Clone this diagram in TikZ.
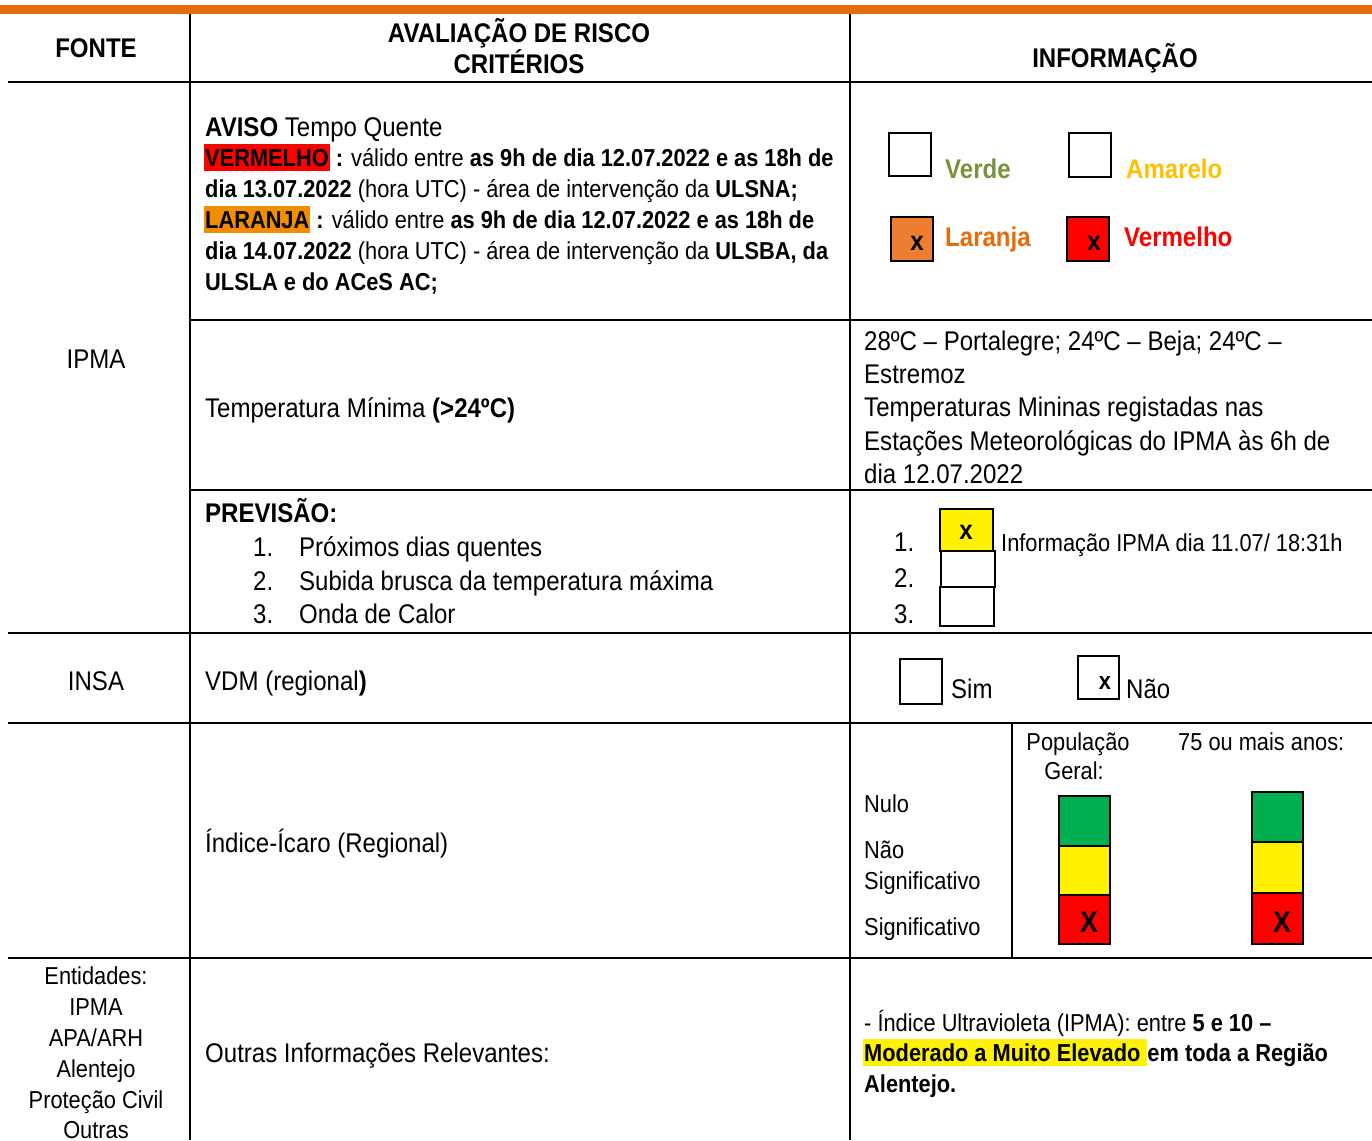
\documentclass[tikz,border=0pt]{standalone}
\usepackage{fontspec}
\setmainfont{Liberation Sans}[FakeStretch=0.89]
\newcommand\bodyfs{\fontsize{27}{33}\selectfont}
\newcommand\avfs{\fontsize{24.5}{31}\selectfont}
\newcommand\smfs{\fontsize{24.5}{31}\selectfont}
\definecolor{barorange}{HTML}{E46C0A}
\definecolor{hlorange}{HTML}{F28C00}
\definecolor{verdetx}{HTML}{77933C}
\definecolor{amartx}{HTML}{FFC000}
\definecolor{larbox}{HTML}{ED7D31}
\definecolor{lartx}{HTML}{E46C0A}
\definecolor{gbar}{HTML}{00B050}
\newcommand\hlbox[2]{{\setlength\fboxsep{0pt}\colorbox{#1}{\kern1pt\rule[-4.5pt]{0pt}{27pt}#2\kern1pt}}}
\begin{document}
\begin{tikzpicture}[x=1pt,y=-1pt,
  t/.style={anchor=base west,inner sep=0pt,font=\bodyfs},
  tc/.style={anchor=base,inner sep=0pt,font=\bodyfs},
  ta/.style={anchor=base west,inner sep=0pt,font=\avfs},
  hd/.style={anchor=base,inner sep=0pt,font=\bodyfs\bfseries},
  ln/.style={line width=2pt},
  cbox/.style={draw,line width=1.6pt},
  xm/.style={inner sep=0pt,font=\bodyfs\bfseries}]
\useasboundingbox (0,0) rectangle (1372,1140);
\fill[white] (0,0) rectangle (1372,1140);
% orange bar
\fill[barorange] (0,5) rectangle (1372,14);
% grid
\draw[ln] (8,82) -- (1372,82);
\draw[ln] (190,320) -- (1372,320);
\draw[ln] (190,490) -- (1372,490);
\draw[ln] (8,633) -- (1372,633);
\draw[ln] (8,723) -- (1372,723);
\draw[ln] (8,958) -- (1372,958);
\draw[ln] (190,14) -- (190,1140);
\draw[ln] (850,14) -- (850,1140);
\draw[ln] (1012,723) -- (1012,958);
% header
\node[hd] (hfonte) at (96,58) {FONTE};
\node[hd] (haval) at (519,42) {AVALIAÇÃO DE RISCO};
\node[hd] (hcrit) at (519,74) {CRITÉRIOS};
\node[hd] (hinfo) at (1115,67) {INFORMAÇÃO};
% column 1
\node[tc] (ipma) at (96,368) {IPMA};
\node[tc] (insa) at (96,690) {INSA};
\node[tc,font=\smfs] (e1) at (96,984) {Entidades:};
\node[tc,font=\smfs] (e2) at (96,1015) {IPMA};
\node[tc,font=\smfs] (e3) at (96,1046) {APA/ARH};
\node[tc,font=\smfs] (e4) at (96,1077) {Alentejo};
\node[tc,font=\smfs] (e5) at (96,1108) {Proteção Civil};
\node[tc,font=\smfs] (e6) at (96,1138) {Outras};
% column 2
\node[t] (av1) at (205,136) {\textbf{AVISO} Tempo Quente};
\node[ta] (av2) at (204,166) {\hlbox{red}{\textbf{VERMELHO}} \textbf{:} válido entre \textbf{as 9h de dia 12.07.2022 e as 18h de}};
\node[ta] (av3) at (205,197) {\textbf{dia 13.07.2022} (hora UTC) - área de intervenção da \textbf{ULSNA;}};
\node[ta] (av4) at (204,228) {\hlbox{hlorange}{\textbf{LARANJA}} \textbf{:} válido entre \textbf{as 9h de dia 12.07.2022 e as 18h de}};
\node[ta] (av5) at (205,259) {\textbf{dia 14.07.2022} (hora UTC) - área de intervenção da \textbf{ULSBA, da}};
\node[ta] (av6) at (205,290) {\textbf{ULSLA e do ACeS AC;}};
\node[t] (tmin) at (205,417) {Temperatura Mínima \textbf{(>24ºC)}};
\node[t] (prev) at (205,522) {\textbf{PREVISÃO:}};
\node[t] (p1n) at (253,556) {1.};
\node[t] (p1) at (299,556) {Próximos dias quentes};
\node[t] (p2n) at (253,590) {2.};
\node[t] (p2) at (299,590) {Subida brusca da temperatura máxima};
\node[t] (p3n) at (253,623) {3.};
\node[t] (p3) at (299,623) {Onda de Calor};
\node[t] (vdm) at (205,690) {VDM (regional\textbf{)}};
\node[t] (icaro) at (205,852) {Índice-Ícaro (Regional)};
\node[t] (outras) at (205,1062) {Outras Informações Relevantes:};
% column 3, row 1
\node[cbox,minimum width=42pt,minimum height=43pt] (bverde) at (910,154.5) {};
\node[t,font=\bodyfs\bfseries,text=verdetx] (lverde) at (945,178) {Verde};
\node[cbox,minimum width=42pt,minimum height=44pt] (bamar) at (1090,155) {};
\node[t,font=\bodyfs\bfseries,text=amartx] (lamar) at (1126,178) {Amarelo};
\node[cbox,fill=larbox,minimum width=42pt,minimum height=44pt] (blar) at (912,239) {};
\node[xm] (xlar) at (917,243) {x};
\node[t,font=\bodyfs\bfseries,text=lartx] (llar) at (945,246) {Laranja};
\node[cbox,fill=red,minimum width=42pt,minimum height=44pt] (bverm) at (1088,239) {};
\node[xm] (xverm) at (1094,243) {x};
\node[t,font=\bodyfs\bfseries,text=red] (lverm) at (1124,246) {Vermelho};
% row 2
\node[t] (i1) at (864,350) {28ºC – Portalegre; 24ºC – Beja; 24ºC –};
\node[t] (i2) at (864,383) {Estremoz};
\node[t] (i3) at (864,416) {Temperaturas Mininas registadas nas};
\node[t] (i4) at (864,450) {Estações Meteorológicas do IPMA às 6h de};
\node[t] (i5) at (864,483) {dia 12.07.2022};
% row 3
\node[t] (n1) at (894,551) {1.};
\node[t] (n2) at (894,587) {2.};
\node[t] (n3) at (894,623) {3.};
\node[cbox,fill=yellow,minimum width=53pt,minimum height=42pt] (by1) at (966.5,530) {};
\node[xm] (xy1) at (966,532) {x};
\node[cbox,minimum width=54pt,minimum height=36pt] (by2) at (968,569) {};
\node[cbox,minimum width=54pt,minimum height=39pt] (by3) at (967,606.5) {};
\node[anchor=base west,inner sep=0pt,font=\smfs] (infipma) at (1001,551) {Informação IPMA dia 11.07/ 18:31h};
% row 4
\node[cbox,minimum width=42pt,minimum height=45pt] (bsim) at (921,681.5) {};
\node[t] (lsim) at (951,698) {Sim};
\node[cbox,minimum width=41pt,minimum height=43pt] (bnao) at (1098.5,677.5) {};
\node[xm,font=\smfs\bfseries] (xnao) at (1105,683) {x};
\node[t] (lnao) at (1126,698) {Não};
% row 5
\node[t,font=\smfs] (nulo) at (864,812) {Nulo};
\node[t,font=\smfs] (nao1) at (864,858) {Não};
\node[t,font=\smfs] (nao2) at (864,889) {Significativo};
\node[t,font=\smfs] (sig) at (864,935) {Significativo};
\node[tc,font=\smfs] (pop1) at (1078,750) {População};
\node[tc,font=\smfs] (pop2) at (1074,779) {Geral:};
\node[t,font=\smfs] (mais75) at (1178,750) {75 ou mais anos:};
\draw[line width=1.5pt,fill=gbar] (1059,796) rectangle (1110,846);
\draw[line width=1.5pt,fill=yellow] (1059,846) rectangle (1110,895);
\draw[line width=1.5pt,fill=red] (1059,895) rectangle (1110,944);
\node[xm,font=\fontsize{30}{30}\selectfont\bfseries] (xg1) at (1089,922) {X};
\draw[line width=1.5pt,fill=gbar] (1252,792) rectangle (1303,842);
\draw[line width=1.5pt,fill=yellow] (1252,842) rectangle (1303,893);
\draw[line width=1.5pt,fill=red] (1252,893) rectangle (1303,944);
\node[xm,font=\fontsize{30}{30}\selectfont\bfseries] (xg2) at (1282,922) {X};
% row 6
\node[ta] (uv1) at (864,1031) {- Índice Ultravioleta (IPMA): entre \textbf{5 e 10 –}};
\node[ta] (uv2) at (863,1061) {\textbf{\hlbox{yellow}{Moderado a Muito Elevado\ }em toda a Região}};
\node[ta] (uv3) at (864,1092) {\textbf{Alentejo.}};
\end{tikzpicture}
\end{document}
